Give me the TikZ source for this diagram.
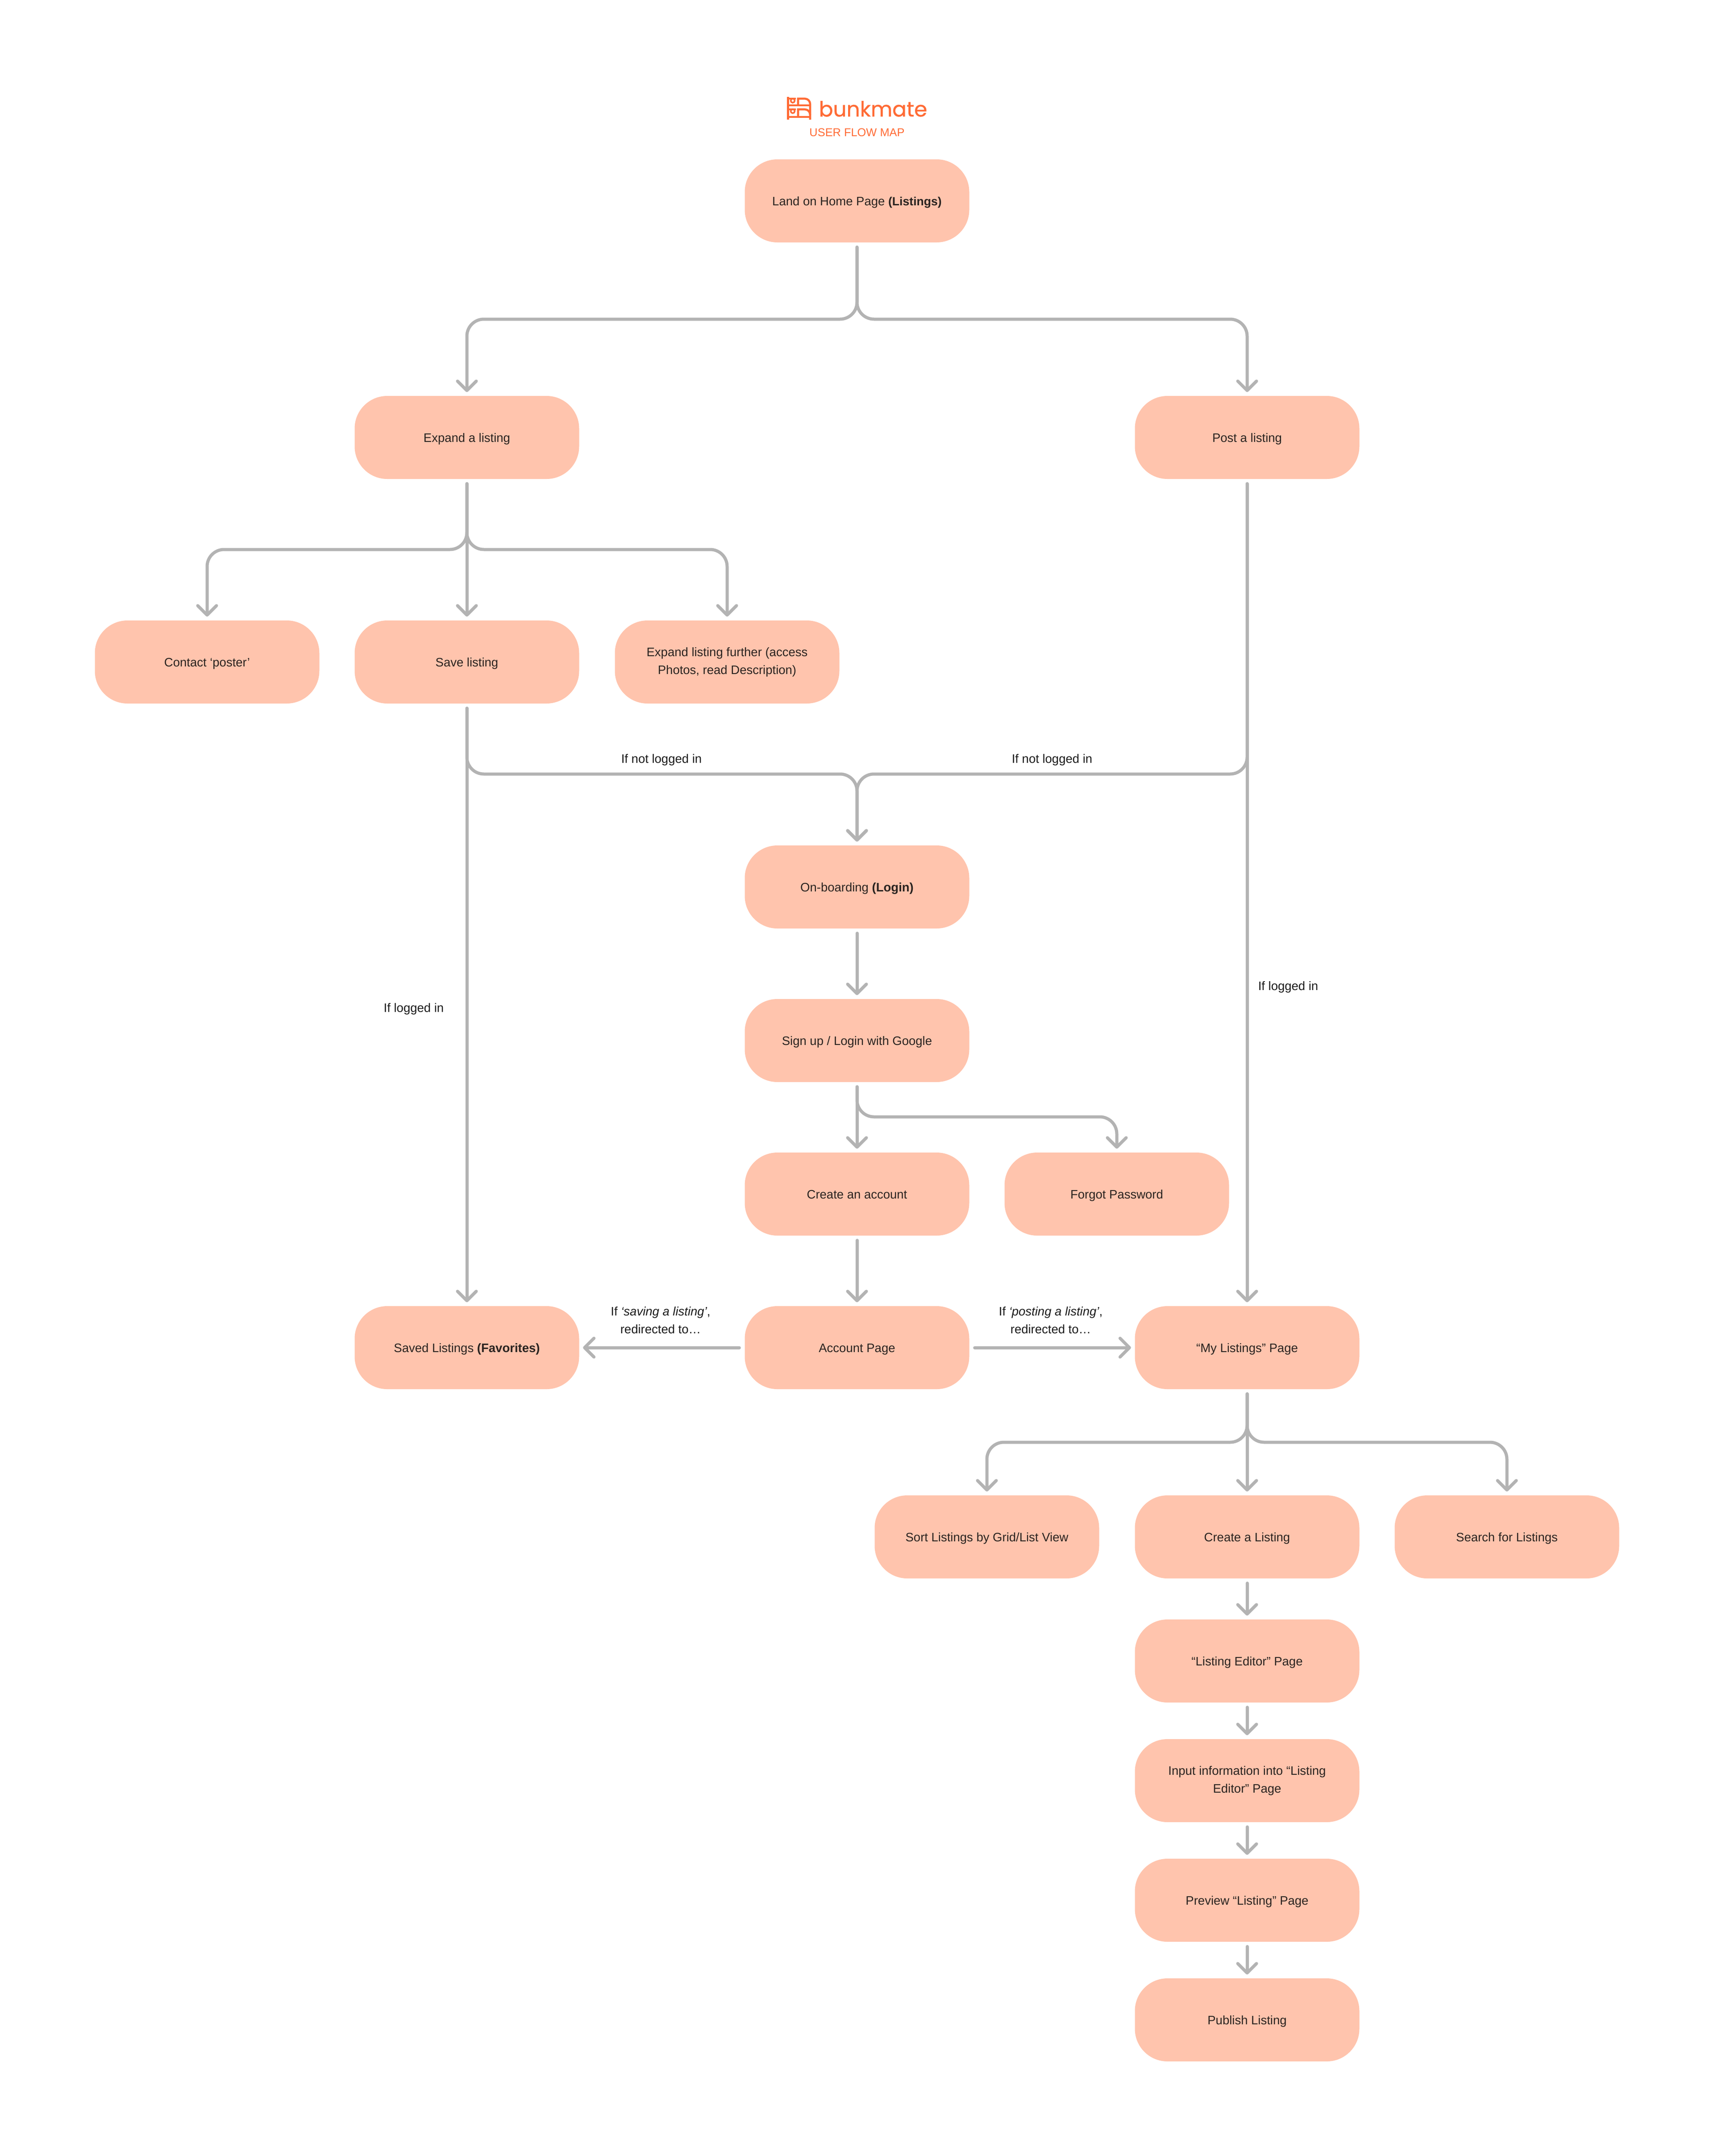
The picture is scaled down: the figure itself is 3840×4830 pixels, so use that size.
\documentclass[tikz,border=0pt]{standalone}
\usepackage{fontspec}
\setmainfont{Liberation Sans}
\newfontfamily\logofont{Poppins}[FakeBold=0.7]
\usetikzlibrary{arrows.meta}
\definecolor{boxfill}{HTML}{FFC4AD}
\definecolor{linegray}{HTML}{B3B3B3}
\definecolor{brand}{HTML}{FF6B35}
\definecolor{boxtext}{HTML}{2A2320}
\definecolor{labeltext}{HTML}{1A1A1A}
\newcommand\strongpart[1]{{\fontsize{26.6}{40}\selectfont\bfseries #1}}
\newcommand\nudged[1]{\raisebox{-8pt}{#1}}
\tikzset{
  box/.style={fill=boxfill,draw=none,rounded corners=73pt,minimum width=503pt,minimum height=186pt,
    inner sep=0pt,align=center,text=boxtext,font=\fontsize{27.5}{40}\selectfont,
    execute at begin node={\rule[-7pt]{0pt}{35pt}}},
  lbl/.style={inner sep=0pt,align=center,text=labeltext,font=\fontsize{27.5}{40}\selectfont},
  conn/.style={draw=linegray,line width=7pt,line cap=round,line join=round,rounded corners=38pt,
    -{Straight Barb[length=21pt,width=42pt,round]}},
  brandline/.style={draw=brand,line width=4.6pt}
}
\begin{document}
\begin{tikzpicture}[x=1pt,y=-1pt]
\useasboundingbox[fill=white] (0,0) rectangle (3840,4830);
% logo
\draw[brandline] (1765.5,217) -- (1765.5,268);
\draw[brandline] (1815,268) -- (1815,233) arc[start angle=0,end angle=90,radius=12pt] -- (1788,221) -- (1788,236);
\draw[brandline] (1765.5,221) -- (1783,221);
\draw[brandline] (1765.5,236) -- (1815,236);
\draw[brandline] (1765.5,245) -- (1783,245);
\draw[brandline] (1788,262) -- (1788,245) -- (1803,245) arc[start angle=90,end angle=0,radius=12pt];
\draw[brandline] (1765.5,262) -- (1815,262);
\draw[brand,line width=3.5pt] (1776,225.5) circle[radius=4.5pt];
\draw[brand,line width=3.5pt] (1776,249) circle[radius=4.5pt];
\node[anchor=base,inner sep=0pt,text=brand,font=\logofont\fontsize{47}{50}\selectfont] (logo) at (1956,261) {bunkmate};
\node[inner sep=0pt,text=brand,font=\fontsize{25.4}{30}\selectfont] (sub) at (1920,297) {USER FLOW MAP};
% boxes
\node[box] (home) at (1920,450) {Land on Home Page \strongpart{(Listings)}};
\node[box] (expand) at (1046,980) {Expand a listing};
\node[box] (post) at (2794,980) {Post a listing};
\node[box] (contact) at (464,1483) {Contact ‘poster’};
\node[box] (save) at (1046,1483) {Save listing};
\node[box] (further) at (1629,1483) {\nudged{Expand listing further (access}\\\nudged{Photos, read Description)}};
\node[box] (onboard) at (1920,1987) {On-boarding \textbf{(Login)}};
\node[box] (signup) at (1920,2331) {Sign up / Login with Google};
\node[box] (create) at (1920,2675) {Create an account};
\node[box] (forgot) at (2502,2675) {Forgot Password};
\node[box] (saved) at (1046,3019) {Saved Listings \textbf{(Favorites)}};
\node[box] (account) at (1920,3019) {Account Page};
\node[box] (mine) at (2794,3019) {“My Listings” Page};
\node[box] (sort) at (2211,3443) {Sort Listings by Grid/List View};
\node[box] (newlist) at (2794,3443) {Create a Listing};
\node[box] (search) at (3376,3443) {Search for Listings};
\node[box] (editor) at (2794,3721) {“Listing Editor” Page};
\node[box] (input) at (2794,3989) {\nudged{Input information into “Listing}\\\nudged{Editor” Page}};
\node[box] (preview) at (2794,4257) {Preview “Listing” Page};
\node[box] (publish) at (2794,4525) {Publish Listing};
% labels
\node[lbl] (l1) at (1482,1702) {If not logged in};
\node[lbl] (l2) at (2357,1702) {If not logged in};
\node[lbl] (l3) at (927,2260) {If logged in};
\node[lbl] (l4) at (2886,2211) {If logged in};
\node[lbl] (l5) at (1480,2958) {If \textit{‘saving a listing’},\\redirected to…};
\node[lbl] (l6) at (2354,2958) {If \textit{‘posting a listing’},\\redirected to…};
% branch points
\coordinate (b1) at (1920,715);
\coordinate (b2) at (1046,1231);
\coordinate (b3) at (1046,1734);
\coordinate (b4) at (2794,1734);
\coordinate (b5) at (1920,2502);
\coordinate (b6) at (2794,3231);
% connectors
\draw[conn] ([yshift=-10.5pt]home.south) -- (b1) -| ([yshift=8.5pt]expand.north);
\draw[conn] ([yshift=-10.5pt]home.south) -- (b1) -| ([yshift=8.5pt]post.north);
\draw[conn] ([yshift=-10.5pt]expand.south) -- (b2) -| ([yshift=8.5pt]contact.north);
\draw[conn] ([yshift=-10.5pt]expand.south) -- ([yshift=8.5pt]save.north);
\draw[conn] ([yshift=-10.5pt]expand.south) -- (b2) -| ([yshift=8.5pt]further.north);
\draw[conn] ([yshift=-10.5pt]save.south) -- ([yshift=8.5pt]saved.north);
\draw[conn] ([yshift=-10.5pt]save.south) -- (b3) -| ([yshift=8.5pt]onboard.north);
\draw[conn] ([yshift=-10.5pt]post.south) -- (b4) -| ([yshift=8.5pt]onboard.north);
\draw[conn] ([yshift=-10.5pt]post.south) -- ([yshift=8.5pt]mine.north);
\draw[conn] ([yshift=-10.5pt]onboard.south) -- ([yshift=8.5pt]signup.north);
\draw[conn] ([yshift=-10.5pt]signup.south) -- ([yshift=8.5pt]create.north);
\draw[conn] ([yshift=-10.5pt]signup.south) -- (b5) -| ([yshift=8.5pt]forgot.north);
\draw[conn] ([yshift=-10.5pt]create.south) -- ([yshift=8.5pt]account.north);
\draw[conn] ([xshift=-12pt]account.west) -- ([xshift=8.5pt]saved.east);
\draw[conn] ([xshift=12pt]account.east) -- ([xshift=-8.5pt]mine.west);
\draw[conn] ([yshift=-10.5pt]mine.south) -- (b6) -| ([yshift=8.5pt]sort.north);
\draw[conn] ([yshift=-10.5pt]mine.south) -- ([yshift=8.5pt]newlist.north);
\draw[conn] ([yshift=-10.5pt]mine.south) -- (b6) -| ([yshift=8.5pt]search.north);
\draw[conn] ([yshift=-10.5pt]newlist.south) -- ([yshift=8.5pt]editor.north);
\draw[conn] ([yshift=-10.5pt]editor.south) -- ([yshift=8.5pt]input.north);
\draw[conn] ([yshift=-10.5pt]input.south) -- ([yshift=8.5pt]preview.north);
\draw[conn] ([yshift=-10.5pt]preview.south) -- ([yshift=8.5pt]publish.north);
\end{tikzpicture}
\end{document}
